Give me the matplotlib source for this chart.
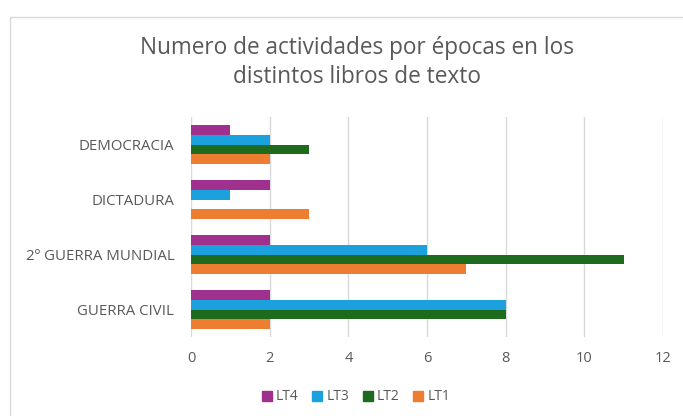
import matplotlib
matplotlib.use("Agg")
import matplotlib.pyplot as plt
from matplotlib.patches import Rectangle, Patch
import numpy as np

categories = ["GUERRA CIVIL", "2º GUERRA MUNDIAL", "DICTADURA", "DEMOCRACIA"]
series_names = ["LT1", "LT2", "LT3", "LT4"]
lt1 = [2, 7, 3, 2]
lt2 = [8, 11, 0, 3]
lt3 = [8, 6, 1, 2]
lt4 = [2, 2, 2, 1]
colors = ["#ED7D31", "#1E6B1E", "#1BA1DE", "#A0308E"]
xticks = [0, 2, 4, 6, 8, 10, 12]

plt.rcParams['font.family'] = ['Open Sans', 'DejaVu Sans']
txt = "#595959"

fig = plt.figure(figsize=(6.83, 4.16), dpi=100)
fig.patches.append(Rectangle((10/683, -0.1), 1.0, (416-17)/416 + 0.1, transform=fig.transFigure,
                             fill=False, edgecolor="#D9D9D9", linewidth=1.0))
ax = fig.add_axes([191/683, 1 - 337/416, (663-191)/683, (337-117)/416])

y = np.arange(len(categories))
h = 0.175
vals = [lt1, lt2, lt3, lt4]
for i, (name, v, c) in enumerate(zip(series_names, vals, colors)):
    ax.barh(y + (i - 1.5) * h, v, height=h, color=c, label=name, zorder=3)

ax.set_xlim(0, 12)
ax.set_ylim(-0.5, len(categories) - 0.5)
ax.set_xticks(xticks)
ax.set_yticks(y)
ax.set_yticklabels(categories)
ax.grid(axis='x', color="#D9D9D9", linewidth=1.0, zorder=0)
for s in ["top", "right", "left", "bottom"]:
    ax.spines[s].set_visible(False)
ax.tick_params(axis='x', length=0, labelcolor=txt, labelsize=10.5, pad=10)
ax.tick_params(axis='y', length=0, labelcolor=txt, labelsize=10.8, pad=12)

fig.text(357/683, 1 - 62.5/416, "Numero de actividades por épocas en los\ndistintos libros de texto",
         ha='center', va='center', fontsize=16.3, color=txt, linespacing=1.32)

handles = [Patch(color=colors[i], label=series_names[i]) for i in [3, 2, 1, 0]]
fig.legend(handles=handles, loc='center', bbox_to_anchor=(356/683, 1 - 397/416), ncol=4, frameon=False,
           fontsize=10, labelcolor=txt, handlelength=0.7, handleheight=0.7, handletextpad=0.3,
           columnspacing=1.0)

fig.savefig("out.png", dpi=100)
